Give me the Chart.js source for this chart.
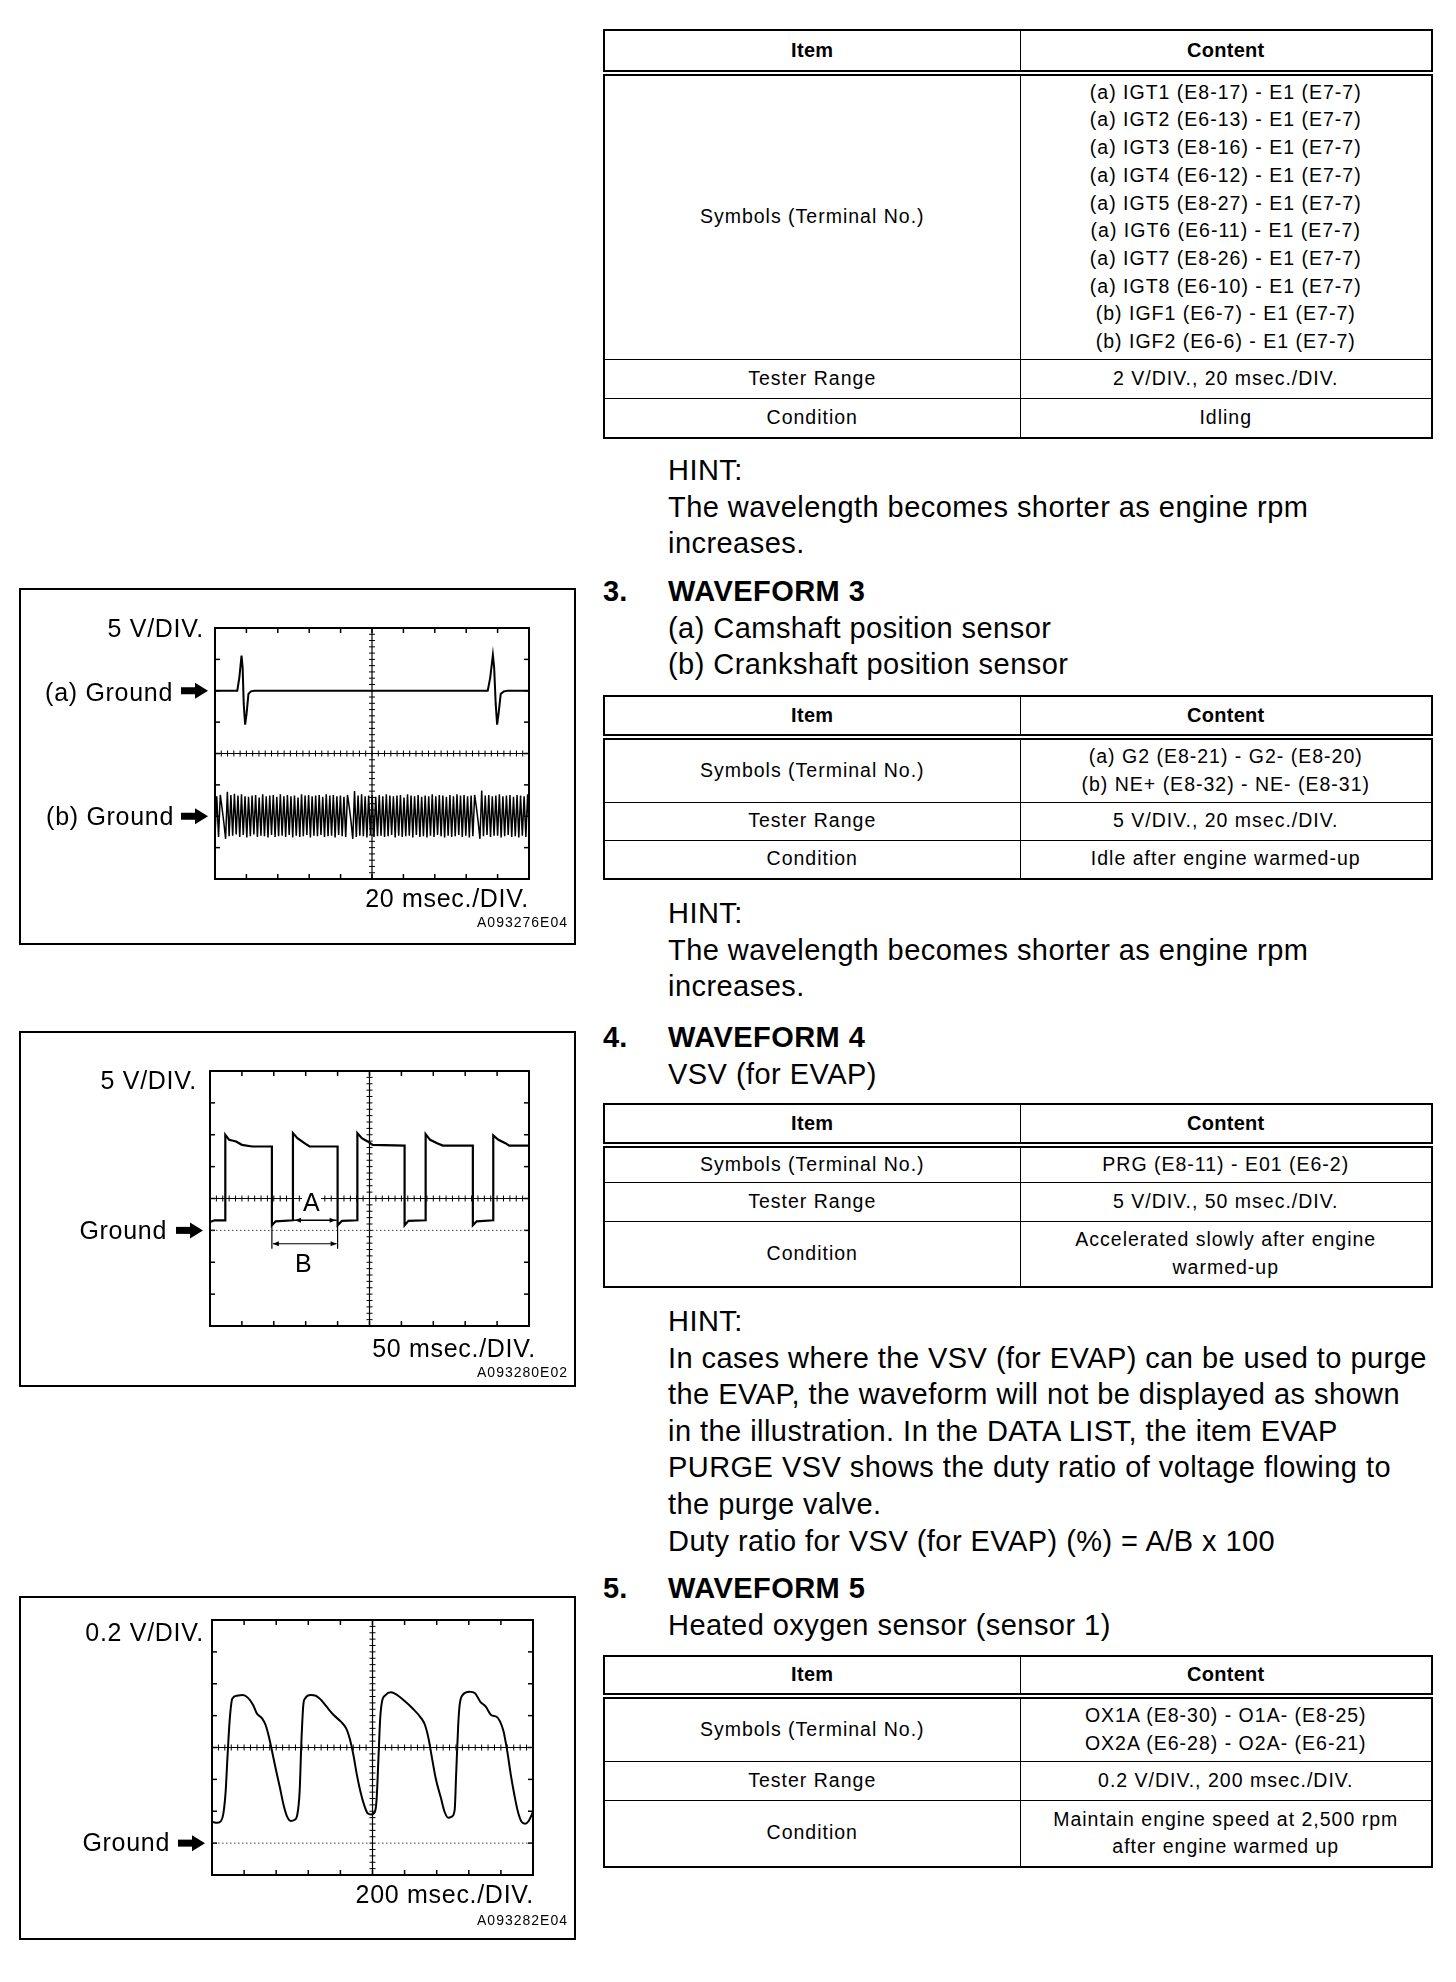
<!DOCTYPE html>
<html>
<head>
<meta charset="utf-8">
<title>Waveforms 3-5</title>
<script src="https://cdn.jsdelivr.net/npm/chart.js@4.4.1/dist/chart.umd.min.js"></script>
<style>
  html, body { margin: 0; padding: 0; background: #fff; }
  body { position: relative; width: 1456px; height: 1982px; overflow: hidden;
         font-family: "Liberation Sans", Arial, Helvetica, sans-serif; color: #000; }
  .txt { position: absolute; left: 668px; font-size: 29px; line-height: 36.6px; letter-spacing: 0.45px; white-space: pre; }
  .num { position: absolute; left: 603px; font-size: 29px; line-height: 36.6px; font-weight: bold; }
  table.spec { position: absolute; left: 603px; width: 830px; border-collapse: collapse; table-layout: fixed;
               font-size: 19.5px; line-height: 27.7px; letter-spacing: 1px; border: 2px solid #000; }
  table.spec td, table.spec th { border: 1.5px solid #000; padding: 0; text-align: center; vertical-align: middle; }
  table.spec th { border-bottom: 6px double #000; font-weight: bold; font-size: 20px; letter-spacing: 0.3px; }
  .box { position: absolute; left: 19px; width: 553px; border: 2px solid #000; }
  .box canvas { display: block; }
  .lbl { position: absolute; font-size: 25px; line-height: 22px; letter-spacing: 0.7px; white-space: nowrap; }
  .r { width: 200px; text-align: right; }
  .code { position: absolute; width: 120px; text-align: right; font-size: 14px; line-height: 12px; letter-spacing: 1px; }
</style>
</head>
<body>

<!-- table for waveform 2 (tail of previous section) -->
<table class="spec" style="top:29px">
  <colgroup><col style="width:416px"><col></colgroup>
  <tr style="height:43px"><th>Item</th><th>Content</th></tr>
  <tr style="height:286px"><td>Symbols (Terminal No.)</td><td>(a) IGT1 (E8-17) - E1 (E7-7)<br>(a) IGT2 (E6-13) - E1 (E7-7)<br>(a) IGT3 (E8-16) - E1 (E7-7)<br>(a) IGT4 (E6-12) - E1 (E7-7)<br>(a) IGT5 (E8-27) - E1 (E7-7)<br>(a) IGT6 (E6-11) - E1 (E7-7)<br>(a) IGT7 (E8-26) - E1 (E7-7)<br>(a) IGT8 (E6-10) - E1 (E7-7)<br>(b) IGF1 (E6-7) - E1 (E7-7)<br>(b) IGF2 (E6-6) - E1 (E7-7)</td></tr>
  <tr style="height:39px"><td>Tester Range</td><td>2 V/DIV., 20 msec./DIV.</td></tr>
  <tr style="height:40px"><td>Condition</td><td>Idling</td></tr>
</table>

<div class="txt" style="top:452px">HINT:
The wavelength becomes shorter as engine rpm
increases.</div>

<div class="num" style="top:573px">3.</div>
<div class="txt" style="top:573px"><b>WAVEFORM 3</b>
(a) Camshaft position sensor
(b) Crankshaft position sensor</div>

<table class="spec" style="top:695px">
  <colgroup><col style="width:416px"><col></colgroup>
  <tr style="height:41px"><th>Item</th><th>Content</th></tr>
  <tr style="height:65px"><td>Symbols (Terminal No.)</td><td>(a) G2 (E8-21) - G2- (E8-20)<br>(b) NE+ (E8-32) - NE- (E8-31)</td></tr>
  <tr style="height:38px"><td>Tester Range</td><td>5 V/DIV., 20 msec./DIV.</td></tr>
  <tr style="height:39px"><td>Condition</td><td>Idle after engine warmed-up</td></tr>
</table>

<div class="txt" style="top:895px">HINT:
The wavelength becomes shorter as engine rpm
increases.</div>

<div class="num" style="top:1019px">4.</div>
<div class="txt" style="top:1019px"><b>WAVEFORM 4</b>
VSV (for EVAP)</div>

<table class="spec" style="top:1103px">
  <colgroup><col style="width:416px"><col></colgroup>
  <tr style="height:41px"><th>Item</th><th>Content</th></tr>
  <tr style="height:37px"><td>Symbols (Terminal No.)</td><td>PRG (E8-11) - E01 (E6-2)</td></tr>
  <tr style="height:39px"><td>Tester Range</td><td>5 V/DIV., 50 msec./DIV.</td></tr>
  <tr style="height:66px"><td>Condition</td><td>Accelerated slowly after engine<br>warmed-up</td></tr>
</table>

<div class="txt" style="top:1303px">HINT:
In cases where the VSV (for EVAP) can be used to purge
the EVAP, the waveform will not be displayed as shown
in the illustration. In the DATA LIST, the item EVAP
PURGE VSV shows the duty ratio of voltage flowing to
the purge valve.
Duty ratio for VSV (for EVAP) (%) = A/B x 100</div>

<div class="num" style="top:1570px">5.</div>
<div class="txt" style="top:1570px"><b>WAVEFORM 5</b>
Heated oxygen sensor (sensor 1)</div>

<table class="spec" style="top:1655px">
  <colgroup><col style="width:416px"><col></colgroup>
  <tr style="height:40px"><th>Item</th><th>Content</th></tr>
  <tr style="height:65px"><td>Symbols (Terminal No.)</td><td>OX1A (E8-30) - O1A- (E8-25)<br>OX2A (E6-28) - O2A- (E6-21)</td></tr>
  <tr style="height:39px"><td>Tester Range</td><td>0.2 V/DIV., 200 msec./DIV.</td></tr>
  <tr style="height:67px"><td>Condition</td><td>Maintain engine speed at 2,500 rpm<br>after engine warmed up</td></tr>
</table>

<!-- scope pictures -->
<div class="box" style="top:588px;height:353px"><canvas id="wave3" width="553" height="353"></canvas></div>
<div class="box" style="top:1031px;height:352px"><canvas id="wave4" width="553" height="352"></canvas></div>
<div class="box" style="top:1596px;height:340px"><canvas id="wave5" width="553" height="340"></canvas></div>

<div class="lbl r" style="left:4px;top:617px">5 V/DIV.</div>
<div class="lbl r" style="left:-27px;top:681px">(a) Ground</div>
<div class="lbl r" style="left:-26px;top:805px">(b) Ground</div>
<div class="lbl r" style="left:329px;top:887px">20 msec./DIV.</div>
<div class="code" style="left:448px;top:916px">A093276E04</div>

<div class="lbl r" style="left:-3px;top:1069px">5 V/DIV.</div>
<div class="lbl r" style="left:-33px;top:1219px">Ground</div>
<div class="lbl r" style="left:336px;top:1337px">50 msec./DIV.</div>
<div class="code" style="left:448px;top:1366px">A093280E02</div>
<div class="lbl" style="left:302px;top:1191px;background:#fff;padding:0 1px">A</div>
<div class="lbl" style="left:295px;top:1252px">B</div>

<div class="lbl r" style="left:4px;top:1621px">0.2 V/DIV.</div>
<div class="lbl r" style="left:-30px;top:1831px">Ground</div>
<div class="lbl r" style="left:334px;top:1883px">200 msec./DIV.</div>
<div class="code" style="left:448px;top:1914px">A093282E04</div>

<script>
// Waveform 3 (a): camshaft position sensor, 20 msec./DIV.
const camTimeMs = [0, 14.2, 15.5, 16.9, 17.6, 18.3, 19.2, 20.1, 21.3, 22.9, 25.1,
                   173.7, 175.3, 177.0, 177.8, 178.8, 179.7, 180.6, 182.0, 184.0, 186.3, 200];
const camVolts = [0, 0, 2.1, 5.6, 3.7, -2.1, -5.4, -3.7, -0.5, -0.1, 0,
                  0, 2.1, 5.7, 3.7, -2.1, -5.4, -3.7, -0.5, -0.1, 0, 0];

// Waveform 3 (b): crankshaft position sensor, one reading every 1.125 ms
const crankStepMs = 1.125;
const crankVolts = [
  -3.0, 3.2, -3.3, 3.4, 1.3, -1.0, -3.6, 3.9, -3.2, 3.4, -3.1, 3.6, -2.9, 3.3, -3.3, 3.5, -3.0, 3.2, -3.4, 3.1,
  -3.2, 3.3, -2.9, 3.4, -3.3, 3.0, -3.1, 3.5, -3.2, 3.2, -3.4, 3.3, -3.0, 3.4, -3.3, 3.1, -3.2, 3.5, -3.1, 3.2,
  -3.3, 3.4, -3.0, 3.2, -3.4, 3.3, -3.1, 3.0, -3.3, 3.5, -3.2, 3.3, -3.0, 3.4, -3.4, 3.2, -3.1, 3.3, -3.2, 3.4,
  -3.0, 3.1, -3.3, 3.5, -3.2, 3.3, -3.1, 3.4, -3.4, 3.2, -3.0, 3.3, -3.2, 3.1, -3.3, 3.4, 1.5, -0.8, -3.6, 4.0,
  -3.3, 3.3, -3.1, 3.5, -3.2, 3.2, -3.4, 3.3, -3.0, 3.4, -3.3, 3.1, -3.2, 3.4, -3.1, 3.2, -3.3, 3.5, -3.2, 3.3,
  -3.0, 3.2, -3.4, 3.3, -3.1, 3.4, -3.3, 3.0, -3.2, 3.5, -3.1, 3.3, -3.4, 3.2, -3.0, 3.4, -3.3, 3.1, -3.2, 3.3,
  -3.4, 3.2, -3.1, 3.5, -3.3, 3.2, -3.0, 3.4, -3.2, 3.3, -3.4, 3.1, -3.1, 3.4, -3.3, 3.2, -3.2, 3.5, -3.0, 3.3,
  -3.3, 3.4, -3.1, 3.2, -3.4, 3.3, -3.2, 3.4, 1.4, -0.9, -3.6, 4.1, -3.2, 3.3, -3.0, 3.4, -3.3, 3.2, -3.1, 3.3,
  -3.1, 3.5, -3.4, 3.2, -3.2, 3.3, -3.0, 3.4, -3.3, 3.1, -3.2, 3.4, -3.4, 3.3, -3.1, 3.2, -3.3, 3.5, -2.9
];

// Waveform 4: VSV (for EVAP), 50 msec./DIV.
const vsvTimeMs = [0, 7, 24, 24, 30, 41, 50, 66, 97, 97,
                   103, 130, 130, 137, 148, 156, 200, 200, 207, 231,
                   231, 238, 247, 255, 305, 305, 311, 338, 338, 345,
                   356, 365, 412, 412, 418, 444, 444, 452, 463, 469, 500];
const vsvVolts = [1.3, 1.58, 1.58, 15.0, 14.2, 13.95, 13.42, 13.16, 13.16, 0.79,
                  1.42, 1.58, 15.26, 14.47, 13.68, 13.16, 13.16, 0.79, 1.5, 1.58,
                  15.26, 14.47, 13.95, 13.42, 13.3, 0.79, 1.5, 1.58, 15.1, 14.2,
                  13.68, 13.3, 13.3, 0.79, 1.42, 1.58, 14.9, 14.2, 13.68, 13.3, 13.3];
// A = on time, B = one period (ms), drawn at the given voltages
const dutyA = [130, 200];
const dutyB = [97, 200];

// Waveform 5: heated oxygen sensor, 200 msec./DIV.
const o2TimeMs = [0, 33, 56, 71, 85, 96, 111, 127, 156, 190, 223, 256, 279, 312, 334, 357, 379, 401, 424, 446,
                  468, 491, 513, 531, 546, 557, 569, 580, 613, 647, 680, 714, 758, 803, 836, 858, 881, 903, 925, 948,
                  970, 992, 1015, 1026, 1037, 1048, 1059, 1081, 1115, 1148, 1193, 1249, 1304, 1327, 1349, 1371, 1394, 1427, 1449, 1472,
                  1494, 1512, 1521, 1534, 1543, 1561, 1605, 1639, 1672, 1706, 1739, 1773, 1795, 1817, 1840, 1862, 1884, 1906, 1929, 1951,
                  1973, 2000];
const o2Volts = [0.134, 0.128, 0.139, 0.187, 0.323, 0.532, 0.783, 0.908, 0.925, 0.929, 0.913, 0.867, 0.814, 0.783, 0.741, 0.657, 0.553, 0.448, 0.344, 0.239,
                 0.166, 0.139, 0.145, 0.176, 0.323, 0.636, 0.867, 0.908, 0.929, 0.925, 0.898, 0.856, 0.804, 0.762, 0.720, 0.657, 0.553, 0.427, 0.323, 0.239,
                 0.187, 0.180, 0.197, 0.281, 0.532, 0.783, 0.887, 0.929, 0.946, 0.933, 0.898, 0.846, 0.783, 0.741, 0.657, 0.532, 0.406, 0.281, 0.197, 0.159,
                 0.166, 0.208, 0.427, 0.741, 0.867, 0.929, 0.950, 0.940, 0.887, 0.856, 0.804, 0.793, 0.762, 0.699, 0.574, 0.427, 0.302, 0.197, 0.134, 0.122,
                 0.139, 0.197];

// scope screen: frame, centre cross with small ticks, ground arrows
const scopeGrid = {
  id: 'scopeGrid',
  beforeDatasetsDraw(chart, args, o) {
    const { ctx, chartArea: a } = chart;
    const x = chart.scales.x, y = chart.scales[o.gridAxis || 'y'];
    const L = a.left, R = a.right, T = a.top, B = a.bottom;
    const seg = (x1, y1, x2, y2) => { ctx.beginPath(); ctx.moveTo(x1, y1); ctx.lineTo(x2, y2); ctx.stroke(); };
    const xAt = f => x.getPixelForValue(x.min + (x.max - x.min) * f);
    const yAt = f => y.getPixelForValue(y.min + (y.max - y.min) * f);

    ctx.save();
    ctx.strokeStyle = '#000';
    ctx.lineWidth = 2;
    ctx.strokeRect(L, T, R - L, B - T);

    const cx = xAt(0.5), cy = yAt(0.5);
    ctx.lineWidth = 1.2;
    seg(L, cy, R, cy);
    seg(cx, T, cx, B);

    ctx.lineWidth = 1.5;
    for (let i = 1; i < 10; i++) {
      const px = xAt(i / 10);
      seg(px, T, px, T + 5);
      seg(px, B, px, B - 5);
    }
    for (let i = 1; i < 8; i++) {
      const py = yAt(i / 8);
      seg(L, py, L + 5, py);
      seg(R, py, R - 5, py);
    }

    ctx.lineWidth = 1;
    for (let i = 1; i < 50; i++) {
      const px = xAt(i / 50);
      seg(px, cy - 3, px, cy + 3);
    }
    for (let i = 1; i < 40; i++) {
      const py = yAt(i / 40);
      seg(cx - 3, py, cx + 3, py);
    }

    (o.dotted || []).forEach(id => {
      const gy = chart.scales[id].getPixelForValue(0);
      ctx.save();
      ctx.strokeStyle = '#444';
      ctx.setLineDash([1.5, 2.5]);
      seg(L + 2, gy, R - 2, gy);
      ctx.restore();
    });

    ctx.fillStyle = '#000';
    (o.grounds || []).forEach(id => {
      const gy = chart.scales[id].getPixelForValue(0);
      ctx.fillRect(L - 34, gy - 3.5, 15, 7);
      ctx.beginPath();
      ctx.moveTo(L - 20, gy - 8);
      ctx.lineTo(L - 7, gy);
      ctx.lineTo(L - 20, gy + 8);
      ctx.closePath();
      ctx.fill();
    });
    ctx.restore();
  },
  afterDatasetsDraw(chart, args, o) {
    if (!o.duty) return;
    const { ctx } = chart;
    const x = chart.scales.x, y = chart.scales.y;
    const d = o.duty;
    const seg = (x1, y1, x2, y2) => { ctx.beginPath(); ctx.moveTo(x1, y1); ctx.lineTo(x2, y2); ctx.stroke(); };
    const head = (px, py, dir) => {
      ctx.beginPath();
      ctx.moveTo(px, py);
      ctx.lineTo(px - dir * 6, py - 2.5);
      ctx.lineTo(px - dir * 6, py + 2.5);
      ctx.closePath();
      ctx.fill();
    };
    ctx.save();
    ctx.strokeStyle = '#000';
    ctx.fillStyle = '#000';
    ctx.lineWidth = 1.2;
    // B: extension lines and period arrow
    const b1 = x.getPixelForValue(d.b[0]), b2 = x.getPixelForValue(d.b[1]);
    seg(b1, y.getPixelForValue(d.bTop), b1, y.getPixelForValue(d.bBottom));
    seg(b2, y.getPixelForValue(d.bTop), b2, y.getPixelForValue(d.bBottom));
    const by = y.getPixelForValue(d.bLevel);
    seg(b1 + 1, by, b2 - 1, by);
    head(b1 + 1, by, -1);
    head(b2 - 1, by, 1);
    // A: on-time arrow along the low level
    const a1 = x.getPixelForValue(d.a[0]), a2 = x.getPixelForValue(d.a[1]);
    const ay = y.getPixelForValue(d.aLevel);
    ctx.lineWidth = 1.5;
    seg(a1 + 1, ay, a2 - 1, ay);
    head(a1 + 2, ay, -1);
    head(a2 - 2, ay, 1);
    ctx.restore();
  }
};

function pairs(xs, ys) {
  return xs.map((t, i) => ({ x: t, y: ys[i] }));
}

function makeScope(id, pad, xMax, yLimits, datasets, gridOpts) {
  const scales = { x: { type: 'linear', display: false, min: 0, max: xMax } };
  Object.keys(yLimits).forEach(k => {
    scales[k] = { type: 'linear', display: false, min: yLimits[k][0], max: yLimits[k][1] };
  });
  return new Chart(document.getElementById(id), {
    type: 'line',
    data: { datasets: datasets },
    options: {
      responsive: false,
      animation: false,
      events: [],
      layout: { padding: pad },
      scales: scales,
      elements: {
        point: { radius: 0 },
        line: { borderColor: '#000', borderWidth: 2, tension: 0 }
      },
      plugins: {
        legend: { display: false },
        tooltip: { enabled: false },
        scopeGrid: gridOpts
      }
    },
    plugins: [scopeGrid]
  });
}

// Waveform 3: two traces, each with its own ground position
makeScope('wave3', { left: 194, top: 38, right: 45, bottom: 64 }, 200,
  { y: [-30, 10], y2: [-10, 30] },
  [
    { label: '(a) G2', data: pairs(camTimeMs, camVolts), yAxisID: 'y', borderWidth: 2 },
    { label: '(b) NE', data: crankVolts.map((v, i) => ({ x: i * crankStepMs, y: v })), yAxisID: 'y2', borderWidth: 1.5 }
  ],
  { gridAxis: 'y', grounds: ['y', 'y2'] });

// Waveform 4
makeScope('wave4', { left: 189, top: 38, right: 45, bottom: 59 }, 500,
  { y: [-15, 25] },
  [{ label: 'PRG', data: pairs(vsvTimeMs, vsvVolts), yAxisID: 'y', borderWidth: 2.2 }],
  { gridAxis: 'y', grounds: ['y'], dotted: ['y'],
    duty: { a: dutyA, aLevel: 1.58, b: dutyB, bLevel: -2.1, bTop: 0.8, bBottom: -2.9 } });

// Waveform 5
makeScope('wave5', { left: 191, top: 22, right: 41, bottom: 63 }, 2000,
  { y: [-0.2, 1.4] },
  [{ label: 'OX1A', data: pairs(o2TimeMs, o2Volts), yAxisID: 'y', borderWidth: 2, cubicInterpolationMode: 'monotone' }],
  { gridAxis: 'y', grounds: ['y'], dotted: ['y'] });
</script>
</body>
</html>
